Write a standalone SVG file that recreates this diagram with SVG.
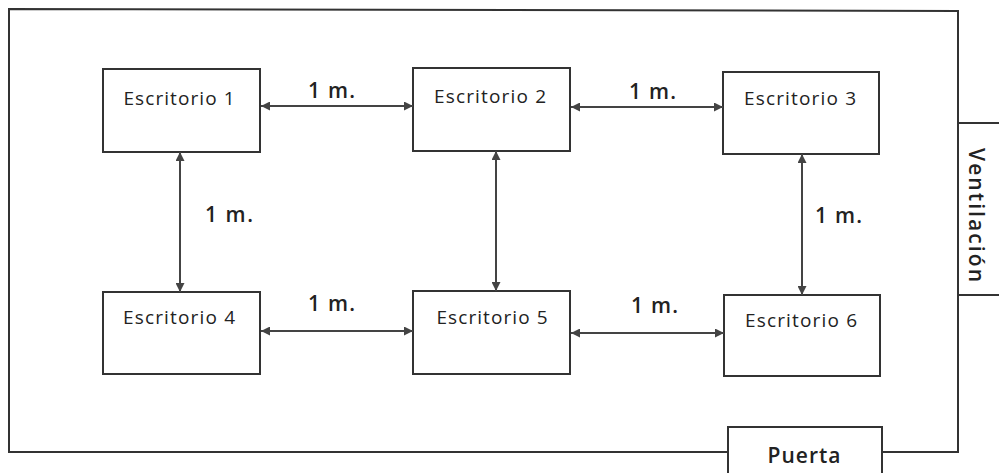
<svg xmlns="http://www.w3.org/2000/svg" width="999" height="473" viewBox="0 0 999 473">
<style>
.box{fill:#fff;stroke:#333;stroke-width:2}
.wall{fill:none;stroke:#333;stroke-width:2}
.lbl{font-family:"Open Sans","Liberation Sans",sans-serif;font-size:19px;fill:#222;text-anchor:middle}
.dim{font-family:"Open Sans","Liberation Sans",sans-serif;font-size:21px;font-weight:600;fill:#222}
.con{stroke:#444;stroke-width:2;fill:none;marker-start:url(#a);marker-end:url(#a)}
</style>
<defs>
<marker id="a" viewBox="0 0 10 10" refX="10" refY="5" markerWidth="9" markerHeight="9" orient="auto-start-reverse" markerUnits="userSpaceOnUse">
<path d="M0,0 L10,5 L0,10 z" fill="#444"/>
</marker>
</defs>
<g id="room">
<path class="wall" d="M728,452 L9,452 L9,9 L958,11 L958,452 L882,452"/>
</g>
<g id="ventilacion">
<path class="wall" d="M958,123 L999,123 M958,295 L999,295"/>
<text class="dim" transform="translate(969,215) rotate(90)" text-anchor="middle" font-size="20" textLength="134" lengthAdjust="spacing">Ventilación</text>
</g>
<g id="puerta">
<path class="box" d="M728,473 L728,427 L882,427 L882,473"/>
<text class="dim" x="804" y="463" text-anchor="middle" font-size="22" textLength="73" lengthAdjust="spacing">Puerta</text>
</g>
<g id="escritorio1"><rect class="box" x="103" y="69" width="157" height="83"/><text class="lbl" x="179" y="105" textLength="111" lengthAdjust="spacing">Escritorio 1</text></g>
<g id="escritorio2"><rect class="box" x="413" y="68" width="157" height="83"/><text class="lbl" x="490" y="103" textLength="112" lengthAdjust="spacing">Escritorio 2</text></g>
<g id="escritorio3"><rect class="box" x="723" y="72" width="156" height="82"/><text class="lbl" x="800" y="105" textLength="112" lengthAdjust="spacing">Escritorio 3</text></g>
<g id="escritorio4"><rect class="box" x="103" y="292" width="157" height="82"/><text class="lbl" x="179" y="324" textLength="112" lengthAdjust="spacing">Escritorio 4</text></g>
<g id="escritorio5"><rect class="box" x="413" y="291" width="157" height="83"/><text class="lbl" x="492" y="324" textLength="111" lengthAdjust="spacing">Escritorio 5</text></g>
<g id="escritorio6"><rect class="box" x="724" y="295" width="156" height="81"/><text class="lbl" x="801" y="327" textLength="112" lengthAdjust="spacing">Escritorio 6</text></g>
<g id="connectors">
<line class="con" x1="261" y1="106" x2="413" y2="106"/>
<line class="con" x1="571" y1="107" x2="723" y2="107"/>
<line class="con" x1="261" y1="331" x2="413" y2="331"/>
<line class="con" x1="571" y1="333" x2="724" y2="333"/>
<line class="con" x1="180" y1="152" x2="180" y2="292"/>
<line class="con" x1="496" y1="151" x2="496" y2="291"/>
<line class="con" x1="802" y1="154" x2="802" y2="295"/>
<text class="dim" x="308" y="98" textLength="47" lengthAdjust="spacing">1 m.</text>
<text class="dim" x="629" y="99" textLength="47" lengthAdjust="spacing">1 m.</text>
<text class="dim" x="205" y="222" textLength="48" lengthAdjust="spacing">1 m.</text>
<text class="dim" x="815" y="223" textLength="47" lengthAdjust="spacing">1 m.</text>
<text class="dim" x="308" y="311" textLength="47" lengthAdjust="spacing">1 m.</text>
<text class="dim" x="631" y="313" textLength="47" lengthAdjust="spacing">1 m.</text>
</g>
</svg>
